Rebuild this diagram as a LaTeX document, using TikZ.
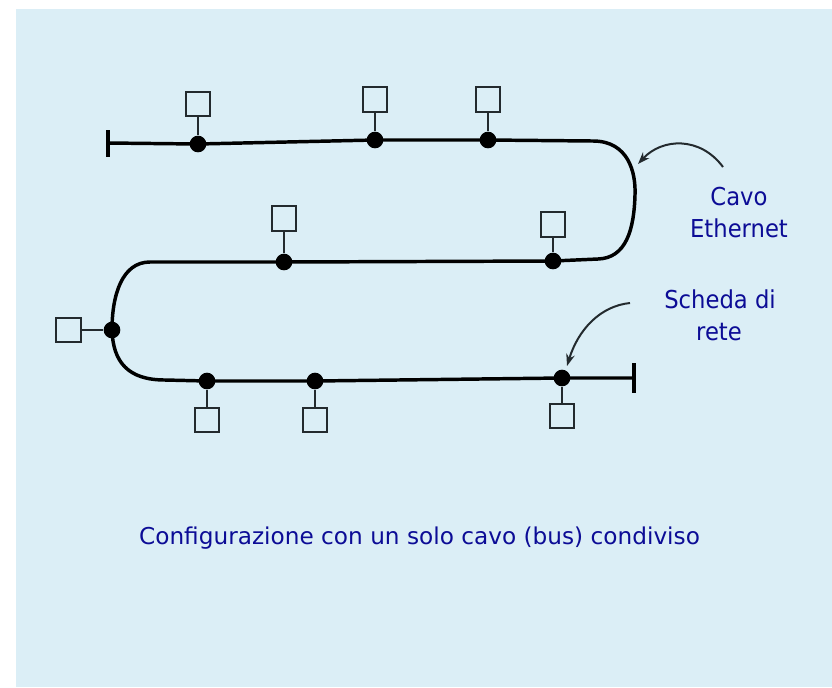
\documentclass[tikz,border=0pt]{standalone}
\usepackage{fontspec}
\usepackage{graphicx}
\setmainfont{DejaVu Sans}
\usetikzlibrary{arrows.meta}

\definecolor{sfondo}{RGB}{219,238,246}
\definecolor{testo}{RGB}{12,12,150}
\definecolor{bordo}{RGB}{35,42,46}

\newcommand{\stretto}[2]{\scalebox{#1}[1]{#2}}

\begin{document}
\begin{tikzpicture}[x=0.75pt, y=-0.75pt,
    presa/.style={circle, fill=black, inner sep=0pt, minimum size=12.5pt},
    pc/.style={draw=bordo, line width=1.3pt, fill=sfondo, inner sep=0pt, minimum size=18.5pt},
    cavo/.style={line width=2.6pt, line join=round},
    filo/.style={line width=1.6pt, draw=bordo},
    freccia/.style={line width=1.5pt, draw=bordo, -{Stealth[length=9pt, width=6.5pt]}},
    etichetta/.style={text=testo, font=\fontsize{18.5}{24}\selectfont, anchor=base}]

    % Sfondo
    \fill[sfondo] (16,9) rectangle (832,687);
    \useasboundingbox (0,0) rectangle (832,687);

    % Prese sul cavo
    \node[presa] (p1) at (198,144) {};
    \node[presa] (p2) at (375,140) {};
    \node[presa] (p3) at (488,140) {};
    \node[presa] (p4) at (553,261) {};
    \node[presa] (p5) at (284,262) {};
    \node[presa] (p6) at (112,330) {};
    \node[presa] (p7) at (207,381) {};
    \node[presa] (p8) at (315,381) {};
    \node[presa] (p9) at (562,378) {};

    % Stazioni
    \node[pc] (s1) at (198,104) {};
    \node[pc] (s2) at (375,99.5) {};
    \node[pc] (s3) at (488,99.5) {};
    \node[pc] (s4) at (553,224.5) {};
    \node[pc] (s5) at (284,218.5) {};
    \node[pc] (s6) at (68.5,330) {};
    \node[pc] (s7) at (207,420) {};
    \node[pc] (s8) at (315,420) {};
    \node[pc] (s9) at (562,416) {};

    \foreach \i in {1,...,9}
        \draw[filo] (s\i) -- (p\i);

    % Cavo Ethernet
    \coordinate (capoA) at (108,143);
    \coordinate (capoB) at (634,378);
    \draw[cavo] (capoA) -- (p1.center) -- (p2.center) -- (p3.center) -- (593,141)
        .. controls (628,141) and (636,172) .. (635,195)
        .. controls (634,230) and (626,258) .. (598,259)
        -- (p4.center) -- (p5.center) -- (150,262)
        .. controls (122,262) and (112,295) .. (p6.center)
        .. controls (113,362) and (128,380) .. (165,380)
        -- (p7.center) -- (p8.center) -- (p9.center) -- (capoB);
    \draw[cavo] (capoA) ++(0,-13) -- ++(0,27);
    \draw[cavo] (capoB) ++(0,-15) -- ++(0,30);

    % Etichette
    \node[etichetta] (cavo1) at (739,205) {\stretto{0.92}{Cavo}};
    \node[etichetta] (cavo2) at (739,237) {\stretto{0.92}{Ethernet}};
    \node[etichetta] (scheda1) at (720,308) {\stretto{0.92}{Scheda di}};
    \node[etichetta] (scheda2) at (719,340) {\stretto{0.92}{rete}};

    \coordinate (a1) at (723,167);
    \coordinate (a2) at (638,164);
    \draw[freccia] (a1) .. controls (700,136) and (662,138) .. (a2);
    \coordinate (b1) at (630,303);
    \coordinate (b2) at (567,366);
    \draw[freccia] (b1) .. controls (600,306) and (578,330) .. (b2);

    % Didascalia
    \node[etichetta, font=\fontsize{17.4}{22}\selectfont] (titolo) at (419.5,544)
        {Configurazione con un solo cavo (bus) condiviso};
\end{tikzpicture}
\end{document}
